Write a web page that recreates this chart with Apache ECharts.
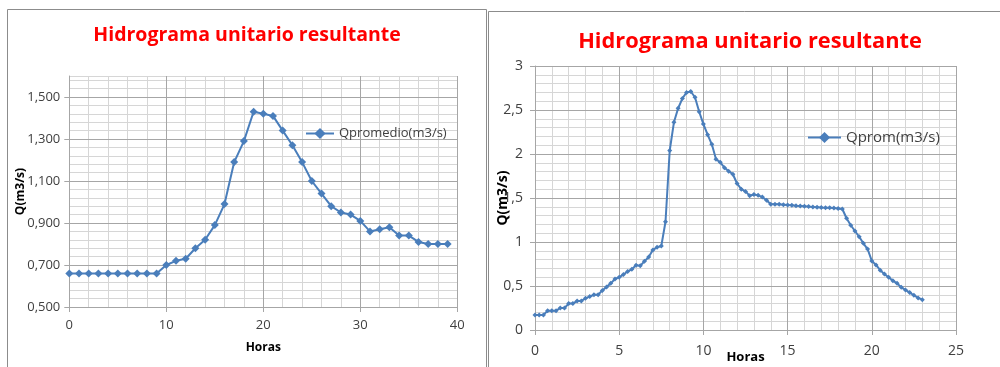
<!DOCTYPE html>
<html>
<head>
<meta charset="utf-8">
<script src="https://cdn.jsdelivr.net/npm/echarts@6/dist/echarts.min.js"></script>
<style>
  html, body { margin: 0; padding: 0; background: #ffffff; }
  #c { width: 1000px; height: 367px; }
</style>
</head>
<body>
<div id="c"></div>
<script>
// Hidrograma unitario (izquierda): caudal promedio cada hora
const horasIzq = [0, 1, 2, 3, 4, 5, 6, 7, 8, 9, 10, 11, 12, 13, 14, 15, 16, 17, 18, 19,
                  20, 21, 22, 23, 24, 25, 26, 27, 28, 29, 30, 31, 32, 33, 34, 35, 36, 37, 38, 39];
const qPromedio = [0.66, 0.66, 0.66, 0.66, 0.66, 0.66, 0.66, 0.66, 0.66, 0.66,
                   0.70, 0.72, 0.73, 0.78, 0.82, 0.89, 0.99, 1.19, 1.29, 1.43,
                   1.42, 1.41, 1.34, 1.27, 1.19, 1.10, 1.04, 0.98, 0.95, 0.94,
                   0.91, 0.86, 0.87, 0.88, 0.84, 0.84, 0.81, 0.80, 0.80, 0.80];

// Hidrograma unitario (derecha): caudal promedio cada 15 minutos
const horasDer = [0, 0.25, 0.5, 0.75, 1, 1.25, 1.5, 1.75, 2, 2.25, 2.5, 2.75,
                  3, 3.25, 3.5, 3.75, 4, 4.25, 4.5, 4.75, 5, 5.25, 5.5, 5.75,
                  6, 6.25, 6.5, 6.75, 7, 7.25, 7.5, 7.75, 8, 8.25, 8.5, 8.75,
                  9, 9.25, 9.5, 9.75, 10, 10.25, 10.5, 10.75, 11, 11.25, 11.5, 11.75,
                  12, 12.25, 12.5, 12.75, 13, 13.25, 13.5, 13.75, 14, 14.25, 14.5, 14.75,
                  15, 15.25, 15.5, 15.75, 16, 16.25, 16.5, 16.75, 17, 17.25, 17.5, 17.75,
                  18, 18.25, 18.5, 18.75, 19, 19.25, 19.5, 19.75, 20, 20.25, 20.5, 20.75,
                  21, 21.25, 21.5, 21.75, 22, 22.25, 22.5, 22.75, 23];
const qProm = [0.17, 0.17, 0.17, 0.22, 0.22, 0.22, 0.25, 0.25, 0.30, 0.30, 0.33, 0.33,
               0.36, 0.38, 0.40, 0.40, 0.45, 0.49, 0.53, 0.58, 0.60, 0.63, 0.665, 0.69,
               0.735, 0.73, 0.78, 0.83, 0.91, 0.94, 0.955, 1.23, 2.04, 2.36, 2.52, 2.63,
               2.70, 2.71, 2.645, 2.48, 2.34, 2.22, 2.11, 1.94, 1.905, 1.845, 1.805, 1.77,
               1.665, 1.60, 1.575, 1.525, 1.54, 1.53, 1.51, 1.475, 1.43, 1.43, 1.428, 1.424,
               1.42, 1.417, 1.413, 1.41, 1.405, 1.402, 1.398, 1.395, 1.392, 1.39, 1.388, 1.385,
               1.38, 1.375, 1.27, 1.19, 1.125, 1.06, 0.985, 0.92, 0.785, 0.74, 0.68, 0.635,
               0.60, 0.56, 0.53, 0.485, 0.455, 0.425, 0.395, 0.365, 0.345];

// Etiquetas de los ejes
const ticksIzqX = [0, 10, 20, 30, 40];
const ticksIzqY = [0.5, 0.7, 0.9, 1.1, 1.3, 1.5];
const ticksDerX = [0, 5, 10, 15, 20, 25];
const ticksDerY = [0, 0.5, 1, 1.5, 2, 2.5, 3];

const titulo = 'Hidrograma unitario resultante';
const azul = '#4a7ebb';
const FONT = '"Open Sans", "Noto Sans", sans-serif';
const MAYOR = '#a6a6a6';
const MENOR = '#d6d6d6';

// eje principal: linea, marcas, etiquetas y rejilla mayor
function ejePrincipal(opts, ticks, labelOpts, nameOpts) {
  return Object.assign({
    type: 'value',
    z: 2,
    axisLine: { show: true, onZero: false, lineStyle: { color: MAYOR, width: 1 } },
    axisTick: { show: true, length: 5, customValues: ticks, lineStyle: { color: MAYOR } },
    splitLine: { show: true, lineStyle: { color: MAYOR, width: 1 } },
    axisLabel: Object.assign({ customValues: ticks, color: '#404040', fontFamily: FONT }, labelOpts),
    nameLocation: 'middle',
    nameMoveOverlap: false,
    nameTextStyle: Object.assign({ fontFamily: FONT, fontWeight: 'bold', color: '#000' }, nameOpts)
  }, opts);
}

// eje auxiliar sin etiquetas: solo la rejilla menor
function ejeMenor(opts) {
  return Object.assign({
    type: 'value',
    z: 1,
    axisLine: { show: false },
    axisTick: { show: false },
    axisLabel: { show: false },
    splitLine: { show: true, lineStyle: { color: MENOR, width: 1 } }
  }, opts);
}

const chart = echarts.init(document.getElementById('c'), null, { renderer: 'canvas' });

chart.setOption({
  animation: false,
  backgroundColor: '#ffffff',
  title: [
    { text: titulo, left: 247, top: 25, padding: 0, textAlign: 'center',
      textStyle: { color: '#ff0000', fontFamily: FONT, fontWeight: 'bold', fontSize: 19.5 } },
    { text: titulo, left: 750, top: 31, padding: 0, textAlign: 'center',
      textStyle: { color: '#ff0000', fontFamily: FONT, fontWeight: 'bold', fontSize: 21.8 } }
  ],
  legend: [
    { data: ['Qpromedio(m3/s)'], left: 305, top: 127, padding: 0, itemWidth: 28, itemHeight: 14,
      textStyle: { fontFamily: FONT, fontSize: 13, color: '#404040' } },
    { data: ['Qprom(m3/s)'], left: 807, top: 130, padding: 0, itemWidth: 33, itemHeight: 14,
      textStyle: { fontFamily: FONT, fontSize: 15, color: '#404040' } }
  ],
  grid: [
    { left: 69.3, right: 542.7, top: 76, bottom: 60, outerBoundsMode: 'none', containLabel: false },
    { left: 535, right: 44, top: 66, bottom: 37, outerBoundsMode: 'none', containLabel: false }
  ],
  xAxis: [
    ejePrincipal({ gridIndex: 0, min: 0, max: 40, interval: 10, name: 'Horas', nameGap: 35 },
      ticksIzqX, { margin: 12, fontSize: 13 }, { fontSize: 12 }),
    ejePrincipal({ gridIndex: 1, min: 0, max: 25, interval: 5, name: 'Horas', nameGap: 21 },
      ticksDerX, { margin: 14, fontSize: 14 }, { fontSize: 13 }),
    ejeMenor({ gridIndex: 0, min: 0, max: 40, interval: 2 }),
    ejeMenor({ gridIndex: 1, min: 0, max: 25, interval: 1 })
  ],
  yAxis: [
    ejePrincipal({ gridIndex: 0, min: 0.5, max: 1.6, interval: 0.2, name: 'Q(m3/s)', nameGap: 43 },
      ticksIzqY, { margin: 9, fontSize: 13, formatter: v => v.toFixed(3).replace('.', ',') },
      { fontSize: 12 }),
    ejePrincipal({ gridIndex: 1, min: 0, max: 3, interval: 0.5, name: 'Q(m3/s)', nameGap: 25 },
      ticksDerY, { margin: 12, fontSize: 14, formatter: v => String(v).replace('.', ',') },
      { fontSize: 14 }),
    ejeMenor({ gridIndex: 0, min: 0.5, max: 1.6, interval: 0.04 }),
    ejeMenor({ gridIndex: 1, min: 0, max: 3, interval: 0.1 })
  ],
  series: [
    { name: 'Qpromedio(m3/s)', type: 'line', xAxisIndex: 0, yAxisIndex: 0, z: 5,
      data: horasIzq.map((h, i) => [h, qPromedio[i]]),
      symbol: 'diamond', symbolSize: 8, showAllSymbol: true,
      itemStyle: { color: azul }, lineStyle: { color: azul, width: 2 } },
    { name: 'Qprom(m3/s)', type: 'line', xAxisIndex: 1, yAxisIndex: 1, z: 5,
      data: horasDer.map((h, i) => [h, qProm[i]]),
      symbol: 'diamond', symbolSize: 5, showAllSymbol: true,
      itemStyle: { color: azul }, lineStyle: { color: azul, width: 2 } }
  ],
  graphic: [
    // marcos de los dos paneles
    { type: 'rect', shape: { x: 7.5, y: 9.5, width: 479, height: 400 },
      style: { fill: null, stroke: '#8c8c8c', lineWidth: 1 }, silent: true, z: 100 },
    { type: 'rect', shape: { x: 488.5, y: 11.5, width: 600, height: 400 },
      style: { fill: null, stroke: '#8c8c8c', lineWidth: 1 }, silent: true, z: 100 }
  ]
});
</script>
</body>
</html>
